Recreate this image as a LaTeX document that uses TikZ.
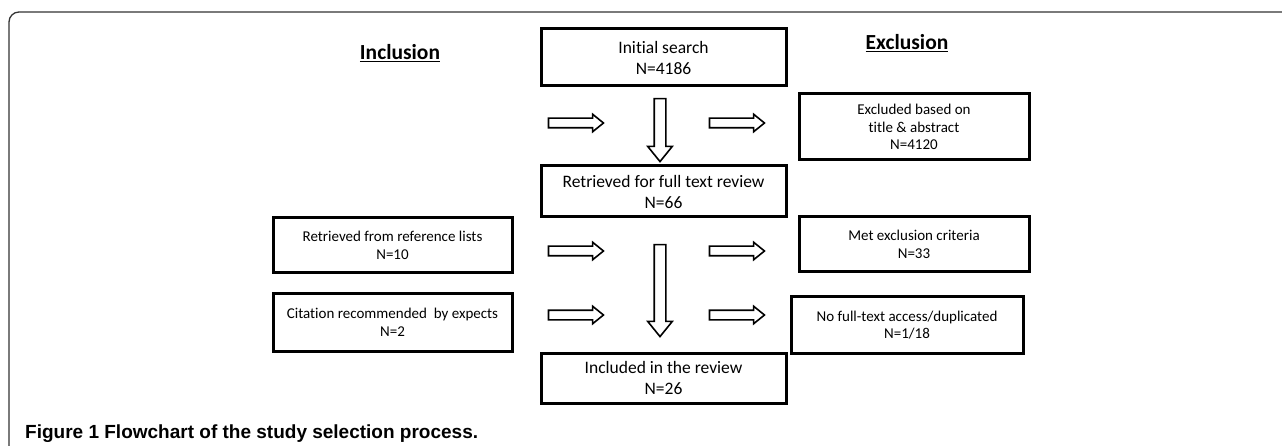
\documentclass[tikz,border=0pt]{standalone}
\usepackage{fontspec}
\setmainfont{Carlito}[Ligatures=NoCommon]
\newfontfamily\capfont{Liberation Sans}
\usepackage{tikz}
\usetikzlibrary{%
  shapes.arrows,%
  positioning
}

\begin{document}
\begin{tikzpicture}[x=1pt,y=-1pt,
    stagebox/.style={draw,line width=3pt,align=center,inner sep=0pt,
      font=\fontsize{17.5}{21}\selectfont},
    sidebox/.style={draw,line width=3pt,align=center,inner sep=0pt,
      font=\fontsize{15}{17.7}\selectfont},
    headtext/.style={font=\fontsize{21.5}{24}\selectfont\bfseries},
    harrow/.style={single arrow,draw,line width=1.6pt,inner sep=4pt,
      minimum width=16pt,minimum height=55pt,
      single arrow head extend=4pt,single arrow tip angle=78},
    varrow/.style={single arrow,draw,line width=1.6pt,inner sep=5pt,
      minimum width=23pt,single arrow head extend=6.5pt,
      single arrow tip angle=78,rotate=-90}
  ]
  \useasboundingbox (0,0) rectangle (1282,446);
  \draw [line width=1.3pt,black!80,rounded corners=10pt]
    (9,446) -- (9,12) -- (1282,12);

  \node [headtext] (incl) at (400,53) {\underline{Inclusion}};
  \node [headtext] (excl) at (907,43) {\underline{Exclusion}};

  % middle column
  \node [stagebox,minimum width=245pt,minimum height=57pt] (init) at (663.5,57.5)
    {Initial search\\N=4186};
  \node [stagebox,minimum width=245pt,minimum height=51pt] (full) at (663.5,191.5)
    {Retrieved for full text review\\N=66};
  \node [stagebox,minimum width=245pt,minimum height=50pt] (review) at (663.5,378)
    {Included in the review\\N=26};

  % inclusion column
  \node [sidebox,minimum width=239pt,minimum height=55pt] (reflist) at (392.5,245.5)
    {Retrieved from reference lists\\N=10};
  \node [sidebox,minimum width=239pt,minimum height=57pt] (expert) at (392.5,322.5)
    {Citation recommended\ \ by expects\\N=2};

  % exclusion column
  \node [sidebox,minimum width=230pt,minimum height=66pt] (title) at (914,127)
    {Excluded based on\\title \& abstract\\N=4120};
  \node [sidebox,minimum width=230pt,minimum height=55pt] (crit) at (914,244.5)
    {Met exclusion criteria\\N=33};
  \node [sidebox,minimum width=232pt,minimum height=56pt] (dupl) at (907,325)
    {No full-text access/duplicated\\N=1/18};

  % block arrows
  \node [varrow,minimum height=63pt] (down1) at (660,126.5) {};
  \node [varrow,minimum height=92pt] (down2) at (660,287) {};
  \foreach \y [count=\i] in {123,251,315} {
    \node [harrow] (in\i) at (573,\y) {};
    \node [harrow] (out\i) at (734,\y) {};
  }

  \node [anchor=base west,inner sep=0pt,
    font=\capfont\fontsize{19}{22}\selectfont\bfseries]
    (caption) at (25,438) {Figure 1 Flowchart of the study selection process.};
\end{tikzpicture}
\end{document}
